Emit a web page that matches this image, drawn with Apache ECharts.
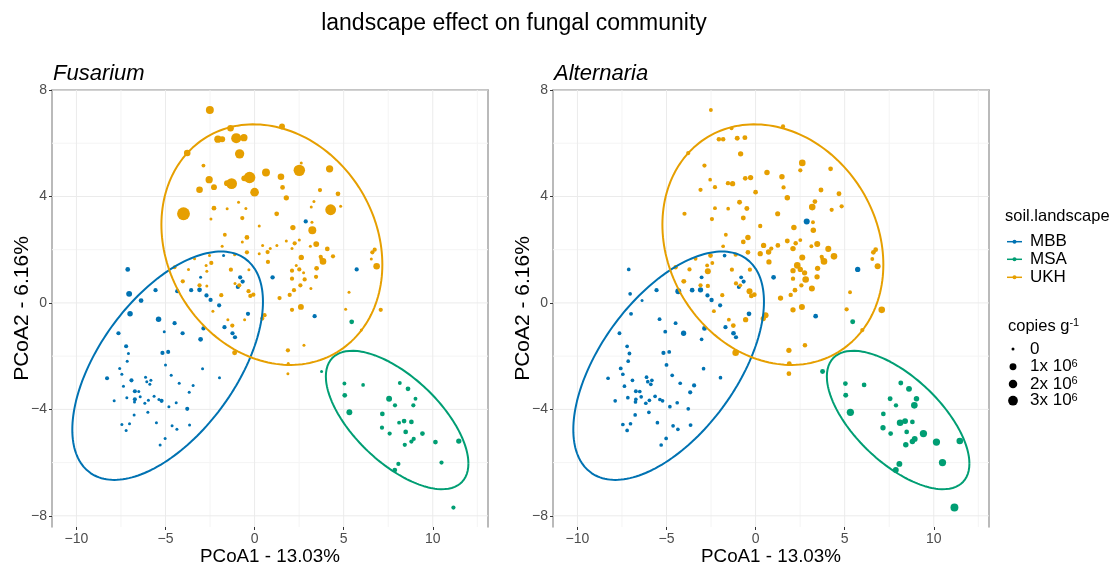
<!DOCTYPE html>
<html>
<head>
<meta charset="utf-8">
<script src="https://cdn.jsdelivr.net/npm/echarts@6/dist/echarts.min.js"></script>
<style>
  html, body { margin: 0; padding: 0; background: #fff; }
  #chart { width: 1118px; height: 565px; }
</style>
</head>
<body>
<div id="chart"></div>
<script>
// ---- sample scores on the first two principal coordinates [PCoA1, PCoA2] ----
const mbbPts = [
  [2.87,3.06],[-1.74,1.78],[-7.12,1.26],[-0.81,0.96],[-0.67,0.8],[-0.94,0.6],[1.01,0.96],[5.73,1.26],
  [-3.03,0.96],[-7.04,0.34],[-5.56,0.48],[-4.34,0.44],[-3.56,0.48],[-3.09,0.49],[-2.7,0.28],[-2.47,0.11],
  [-6.37,0.09],[-1.99,-0.09],[-6.99,-0.41],[-5.39,-0.61],[3.37,-0.5],[-0.37,-0.41],[-4.49,-0.76],[-5.07,-1.08],
  [-4.04,-1.14],[-7.64,-1.14],[-2.87,-0.96],[-1.69,-0.91],[-1.24,-1.14],[-1.1,-1.29],[-3.03,-1.37],[-7.21,-1.63],
  [-7.08,-1.9],[-7.15,-2.19],[-5.17,-1.88],[-4.85,-1.84],[-5.0,-2.33],[-7.57,-2.46],[-7.45,-2.68],[-8.28,-2.83],
  [-2.92,-2.47],[-4.68,-2.72],[-1.97,-2.81],[-6.91,-2.91],[-6.12,-2.79],[-6.05,-2.96],[-5.82,-2.91],[-5.88,-3.06],
  [-4.23,-3.02],[-3.45,-3.1],[-7.36,-3.13],[-6.72,-3.32],[-6.5,-3.33],[-5.64,-3.51],[-6.42,-3.53],[-7.17,-3.56],
  [-6.72,-3.62],[-5.96,-3.66],[-5.37,-3.63],[-5.22,-3.68],[-6.16,-3.77],[-6.74,-3.72],[-7.88,-3.68],[-4.4,-3.75],
  [-3.67,-3.36],[-4.81,-3.9],[-3.78,-3.98],[-5.99,-4.11],[-6.76,-4.21],[-5.51,-4.5],[-7.45,-4.57],[-7.02,-4.54],
  [-7.21,-4.79],[-3.65,-4.59],[-4.63,-4.62],[-4.36,-4.75],[-5.02,-5.09],[-5.3,-5.34]
];
const msaPts = [
  [5.45,-0.71],[3.76,-2.58],[5.04,-3.03],[6.09,-3.08],[8.15,-3.01],[5.06,-3.47],[8.61,-3.23],[7.55,-3.6],
  [9.03,-3.6],[7.88,-3.85],[8.91,-3.85],[5.32,-4.11],[7.17,-4.17],[8.11,-4.5],[8.39,-4.44],[8.8,-4.47],
  [7.15,-4.69],[7.58,-4.91],[8.48,-4.85],[9.42,-4.91],[8.93,-5.11],[8.8,-5.21],[8.43,-5.33],[10.15,-5.23],
  [11.46,-5.19],[10.49,-6.0],[8.07,-6.05],[7.87,-6.28],[11.16,-7.69]
];
const ukhPts = [
  [-2.51,7.25],[-1.35,6.56],[1.54,6.63],[-2.06,6.15],[-1.82,6.15],[-1.03,6.19],[-0.6,6.21],[-0.84,5.6],
  [-3.78,5.63],[-2.87,5.16],[-2.55,4.63],[-3.09,4.25],[-2.28,4.35],[-1.55,4.5],[-1.29,4.48],[-0.28,4.71],
  [-0.58,4.68],[0.0,4.16],[0.64,4.9],[2.51,4.98],[2.62,5.26],[1.48,4.74],[1.57,4.34],[1.78,3.95],
  [4.21,5.04],[3.67,4.24],[4.68,4.1],[3.33,3.81],[3.18,3.6],[4.83,3.63],[4.27,3.5],[-3.99,3.35],
  [-2.28,3.56],[-1.54,3.54],[-0.9,3.78],[-0.49,3.55],[-2.45,3.15],[-0.69,3.19],[1.24,3.35],[0.26,2.89],
  [2.15,2.83],[3.22,3.03],[3.24,2.73],[-1.67,2.56],[-0.43,2.46],[-0.69,2.29],[-1.82,2.13],[0.45,2.16],
  [0.73,1.91],[0.88,2.04],[1.25,2.16],[1.78,2.33],[2.25,2.24],[2.51,2.36],[2.1,2.04],[3.46,2.21],
  [3.13,2.13],[4.08,2.03],[6.74,2.0],[6.61,1.9],[6.55,1.65],[6.85,1.38],[-3.37,1.66],[-2.53,1.78],
  [-2.43,1.5],[-2.72,1.41],[-1.12,1.81],[-0.43,1.9],[0.26,1.85],[0.75,1.54],[2.62,1.71],[3.71,1.73],
  [4.4,1.75],[3.84,1.56],[3.75,1.65],[-4.49,1.34],[-3.71,1.26],[-2.68,1.19],[-1.33,1.25],[-0.32,1.25],
  [2.1,1.21],[2.34,1.41],[2.51,1.26],[2.75,1.13],[2.81,0.88],[2.1,0.91],[3.48,1.3],[3.45,0.98],
  [3.16,0.54],[2.57,0.66],[-4.03,0.81],[-3.09,0.66],[-2.68,0.64],[-1.1,0.73],[-0.86,0.66],[-0.34,0.44],
  [-0.07,0.31],[-0.24,0.26],[-1.87,0.29],[1.97,0.3],[2.21,0.48],[1.4,0.18],[5.3,0.4],[2.6,-0.15],
  [2.1,-0.26],[-2.34,-0.31],[5.11,-0.24],[7.08,-0.26],[0.56,-0.46],[0.43,-0.59],[-1.5,-0.63],[-0.56,-0.63],
  [-1.25,-0.85],[5.99,-1.02],[-1.12,-1.87],[1.87,-1.78],[2.77,-1.59],[1.89,-2.28],[1.87,-2.66]
];

// ---- gene copies per gram of soil, in millions (same sample order as above) ----
const mbbFusarium = [
  0.1,0,0.2,0.1,0.1,0.1,0.12,0.1, 0,0.55,0.1,0.1,0.1,0.2,0.1,0.1,
  0.2,0.1,0.4,0.4,0.1,0.1,0.1,0, 0.1,0.1,0.1,0.1,0.1,0.1,0.2,0.08,
  0,0,0.1,0.08,0,0,0,0.08, 0,0,0,0.08,0,0,0,0,
  0,0,0,0.08,0,0,0,0, 0.08,0,0,0.08,0,0,0,0,
  0,0,0.08,0,0,0,0,0, 0,0,0,0,0,0
];
const mbbAlternaria = [
  0.6,0.03,0.03,0.05,0.08,0.08,0.2,0.35, 0.05,0.03,0.1,0.55,0.2,0.35,0.1,0.12,
  0,0.1,0.05,0.05,0.2,0.2,0.05,0.05, 0.35,0.05,0.2,0.1,0.2,0.1,0.03,0.03,
  0.05,0.03,0.1,0.05,0.05,0.05,0.03,0.03, 0.03,0.03,0.03,0.03,0.03,0.03,0.03,0.03,
  0.03,0.1,0.03,0.05,0.03,0.03,0.03,0.03, 0.03,0.03,0.03,0.03,0.03,0.03,0.03,0.03,
  0.1,0.03,0.03,0.03,0.03,0.03,0.03,0.03, 0.03,0.05,0.03,0.03,0.03,0.03
];
const msaFusarium = [
  0.2,0,0.05,0.03,0.05,0.2,0.2,0.55, 0.05,0.1,0.1,0.55,0.2,0.05,0.2,0.2,
  0.1,0.1,0.2,0.2,0.1,0.1,0.1,0.2, 0.35,0.1,0.1,0.2,0.1
];
const msaAlternaria = [
  0.25,0.25,0.2,0.2,0.25,0.25,0.55,0.25, 0.4,0.12,0.85,1.2,0.2,0.85,0.55,0.2,
  0.35,0.2,0.2,1.2,0.55,0.4,0.4,1.2, 0.85,1.2,0.55,0.55,1.6
];
const ukhFusarium = [
  1.6,0.85,0.55,1.2,0.6,3.3,1.2,2.6, 0.85,0.05,1.2,0.85,0.55,0.55,4.0,4.7,
  0.55,2.1,1.6,4.7,0,0.85,0.2,0.35, 1.2,0.1,0.2,0,0,0,4.0,6.4,
  0.2,0,0,0,0,0.1,0.2,0, 0.35,0,1.6,0.05,0.2,0,0,0,
  0.1,0,0,0,0.1,0,0,0.55, 0,0.2,0.1,0.1,0,0.85,0,0,
  0.1,0,0,0.1,0,0.1,0.35,0.1, 0.1,0.85,0.1,0.05,0,0,0.1,0,
  0.1,0,0.1,0,0.1,0.1,0.2,0.1, 0,0.1,0.1,0.1,0,0,0.1,0.1,
  0.1,0.1,0.1,0.1,0.1,0.1,0,0.55, 0.1,0,0,0.1,0.1,0.1,0,0,
  0.1,0,0.25,0.1,0,0,0
];
const ukhAlternaria = [
  0.05,0.05,0.1,0.15,0.15,0.25,0.25,0.35, 0.1,0.1,0.03,0.1,0.1,0.12,0.35,0.35,
  0.2,0.2,0.4,0.1,0.85,0.4,0.1,0.4, 0.2,0.25,0.25,0.2,0.85,0.1,0.1,0.1,
  0.05,0.03,0.25,0.25,0.1,0.25,0.3,0.12, 0.4,0.05,0.4,0.05,0.4,0.2,0.03,0.35,
  0.4,0.1,0.2,0.25,0.15,0.05,0.4,0.6, 0.05,0.6,0.2,0.2,0.05,0.6,0.05,0.2,
  0.05,0.05,0.1,0.2,0.35,0.35,0.6,0.1, 0.85,0.85,0.1,0.12,0.1,0.6,0.1,0.1,
  0.35,0.85,0.35,0.35,0.85,0.12,0.35,0.35, 0.6,0.12,0.25,0.1,0.12,0.1,0.05,0.6,
  0.2,0.2,0.1,0.12,0.2,0.35,0.05,0.6, 0.35,0.05,0.1,0.85,0.6,0.35,0.05,0.35,
  0.2,0.1,0.85,0.35,0.15,0.2,0.2
];

// ---- 95% confidence ellipses: centre, half-extent along x and y, phase between them ----
const mbbEllipse = [-4.88, -2.36, 5.35, 4.29, 0.56];
const msaEllipse = [8.0, -4.4, 4.0, 2.6, -0.63];
const ukhEllipse = [0.97, 2.19, 6.2, 4.52, -0.166];

// ---- axes ----
const xTicks = [-10, -5, 0, 5, 10];
const xMinor = [-7.5, -2.5, 2.5, 7.5, 12.5];
const yTicks = [-8, -4, 0, 4, 8];
const yMinor = [-6, -2, 2, 6];
const sizeBreaks = [0, 1, 2, 3];

const landscapes = ['MBB', 'MSA', 'UKH'];
const colours = ['#0072B2', '#009E73', '#E69F00'];
const FONT = '"Liberation Sans", Arial, Helvetica, sans-serif';

const X_RANGE = [-11.37, 13.1];
const Y_RANGE = [-8.42, 8.0];

// point diameter grows with the square root of the copy number
function sizeOf(c) { return 3 + 3.9 * Math.sqrt(c); }

function ellipsePath(e) {
  const [cx, cy, ax, ay, cphi] = e;
  const phi = Math.acos(cphi);
  const out = [];
  for (let i = 0; i <= 180; i++) {
    const t = (i / 180) * 2 * Math.PI;
    out.push([cx + ax * Math.cos(t), cy + ay * Math.cos(t + phi)]);
  }
  return out;
}

function minus(v) { return v < 0 ? '\u2212' + Math.abs(v) : String(v); }

const grids = [
  { left: 52, top: 90, width: 436, height: 437, outerBoundsMode: 'none', containLabel: false },
  { left: 553, top: 90, width: 436, height: 437, outerBoundsMode: 'none', containLabel: false }
];

const xAxes = [], yAxes = [], series = [];
const frame = { color: '#a3a3a3', width: 1.5 };

grids.forEach((g, gi) => {
  xAxes.push({
    gridIndex: gi, type: 'value', min: X_RANGE[0], max: X_RANGE[1],
    axisLine: { show: false, onZero: false },
    axisTick: { show: true, customValues: xTicks, length: 3, lineStyle: { color: '#333', width: 1 } },
    axisLabel: { customValues: xTicks, formatter: minus, fontSize: 14, color: '#4d4d4d', margin: 5, fontFamily: FONT },
    splitLine: { show: false },
    name: 'PCoA1 - 13.03%', nameLocation: 'middle', nameGap: 20, nameMoveOverlap: false,
    nameTextStyle: { fontSize: 18.8, color: '#000', fontFamily: FONT, verticalAlign: 'top' }
  });
  xAxes.push({
    gridIndex: gi, type: 'value', position: 'top', min: X_RANGE[0], max: X_RANGE[1],
    axisLine: { show: true, onZero: false, lineStyle: frame },
    axisTick: { show: false }, axisLabel: { show: false }, splitLine: { show: false }
  });
  yAxes.push({
    gridIndex: gi, type: 'value', min: Y_RANGE[0], max: Y_RANGE[1],
    axisLine: { show: true, onZero: false, lineStyle: frame },
    axisTick: { show: true, customValues: yTicks, length: 3, lineStyle: { color: '#333', width: 1 } },
    axisLabel: { customValues: yTicks, formatter: minus, fontSize: 14, color: '#4d4d4d', margin: 5, fontFamily: FONT },
    splitLine: { show: false },
    name: 'PCoA2 - 6.16%', nameLocation: 'middle', nameGap: 19, nameRotate: 90, nameMoveOverlap: false,
    nameTextStyle: { fontSize: 21, color: '#000', fontFamily: FONT }
  });
  yAxes.push({
    gridIndex: gi, type: 'value', position: 'right', min: Y_RANGE[0], max: Y_RANGE[1],
    axisLine: { show: true, onZero: false, lineStyle: frame },
    axisTick: { show: false }, axisLabel: { show: false }, splitLine: { show: false }
  });

  const xi = gi * 2, yi = gi * 2;

  // background grid lines, drawn beneath the points
  const gridLine = (data, color) => ({
    type: 'line', xAxisIndex: xi, yAxisIndex: yi, z: 1, data, showSymbol: false, symbol: 'none',
    silent: true, animation: false, lineStyle: { color, width: 1, type: 'solid' }
  });
  xMinor.forEach(v => series.push(gridLine([[v, Y_RANGE[0]], [v, Y_RANGE[1]]], '#f4f4f4')));
  yMinor.forEach(v => series.push(gridLine([[X_RANGE[0], v], [X_RANGE[1], v]], '#f4f4f4')));
  xTicks.forEach(v => series.push(gridLine([[v, Y_RANGE[0]], [v, Y_RANGE[1]]], '#ebebeb')));
  yTicks.forEach(v => series.push(gridLine([[X_RANGE[0], v], [X_RANGE[1], v]], '#ebebeb')));

  const pts = [mbbPts, msaPts, ukhPts];
  const copies = gi === 0
    ? [mbbFusarium, msaFusarium, ukhFusarium]
    : [mbbAlternaria, msaAlternaria, ukhAlternaria];
  pts.forEach((p, k) => {
    series.push({
      name: landscapes[k], type: 'scatter', xAxisIndex: xi, yAxisIndex: yi, z: 3,
      data: p.map((q, i) => [q[0], q[1], copies[k][i]]),
      symbol: 'circle',
      symbolSize: v => sizeOf(v[2]),
      itemStyle: { color: colours[k], opacity: 1, borderWidth: 0 },
      label: { show: false },
      emphasis: { disabled: true }, animation: false
    });
  });

  [mbbEllipse, msaEllipse, ukhEllipse].forEach((e, k) => {
    series.push({
      type: 'line', xAxisIndex: xi, yAxisIndex: yi, z: 4, data: ellipsePath(e),
      showSymbol: false, symbol: 'none', smooth: false, silent: true,
      lineStyle: { color: colours[k], width: 2 }, animation: false
    });
  });
});

// ---- titles and legend ----
const graphic = [
  { type: 'text', x: 514, y: 24, style: { text: 'landscape effect on fungal community', fontSize: 23, fill: '#000',
      fontFamily: FONT, align: 'center', verticalAlign: 'middle' } },
  { type: 'text', x: 53, y: 73.5, style: { text: 'Fusarium', fontSize: 22, fontStyle: 'italic', fill: '#000',
      fontFamily: FONT, align: 'left', verticalAlign: 'middle' } },
  { type: 'text', x: 554, y: 73.5, style: { text: 'Alternaria', fontSize: 22, fontStyle: 'italic', fill: '#000',
      fontFamily: FONT, align: 'left', verticalAlign: 'middle' } },
  { type: 'text', x: 1005, y: 216, style: { text: 'soil.landscape', fontSize: 16.5, fill: '#000',
      fontFamily: FONT, align: 'left', verticalAlign: 'middle' } }
];
const keyY = [241.7, 259.3, 277.3];
landscapes.forEach((name, k) => {
  graphic.push({ type: 'line', shape: { x1: 1007, y1: keyY[k], x2: 1022, y2: keyY[k] },
    style: { stroke: colours[k], lineWidth: 1.5 } });
  graphic.push({ type: 'circle', shape: { cx: 1014.5, cy: keyY[k], r: 2 }, style: { fill: colours[k] } });
  graphic.push({ type: 'text', x: 1030, y: keyY[k], style: { text: name, fontSize: 17, fill: '#000',
    fontFamily: FONT, align: 'left', verticalAlign: 'middle' } });
});
graphic.push({ type: 'text', x: 1008, y: 326, style: { text: 'copies g{sup|-1}', fontSize: 16.5, fill: '#000',
  fontFamily: FONT, align: 'left', verticalAlign: 'middle',
  rich: { sup: { fontSize: 11, verticalAlign: 'top', fontFamily: FONT, fill: '#000' } } } });
const sizeY = [349, 366.7, 384, 400.7];
sizeBreaks.forEach((b, k) => {
  graphic.push({ type: 'circle', shape: { cx: 1013, cy: sizeY[k], r: sizeOf(b) / 2 }, style: { fill: '#000' } });
  graphic.push({ type: 'text', x: 1030, y: sizeY[k], style: {
    text: b === 0 ? '0' : b + 'x 10{sup|6}', fontSize: 17, fill: '#000', fontFamily: FONT,
    align: 'left', verticalAlign: 'middle',
    rich: { sup: { fontSize: 11, verticalAlign: 'top', fontFamily: FONT, fill: '#000' } } } });
});

const chart = echarts.init(document.getElementById('chart'), null, { renderer: 'canvas' });
chart.setOption({
  animation: false,
  backgroundColor: '#fff',
  tooltip: { show: false },
  grid: grids,
  xAxis: xAxes,
  yAxis: yAxes,
  series: series,
  graphic: graphic
});
</script>
</body>
</html>
